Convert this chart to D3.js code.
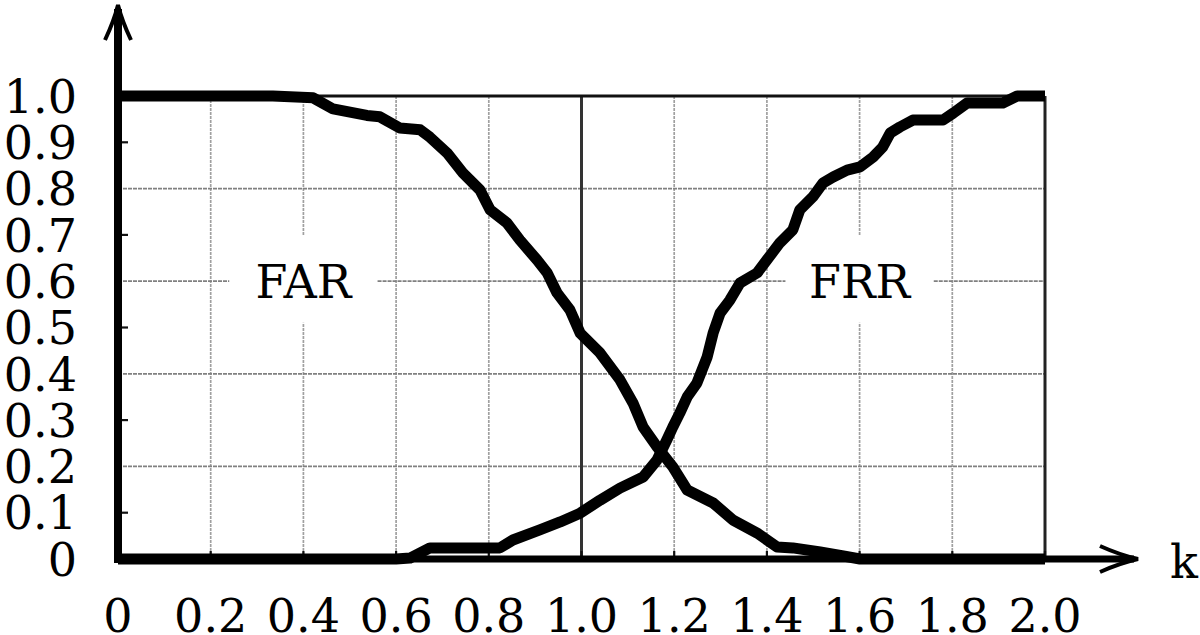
<!DOCTYPE html>
<html><head><meta charset="utf-8">
<script src="https://cdn.jsdelivr.net/npm/d3@7"></script>
<style>html,body{margin:0;padding:0;background:#fff;overflow:hidden}</style>
</head><body>
<svg id="c" width="1200" height="635"></svg>
<script>
// ---- data ----
const xTicks = [0, 0.2, 0.4, 0.6, 0.8, 1.0, 1.2, 1.4, 1.6, 1.8, 2.0];
const xTickLabels = ["0", "0.2", "0.4", "0.6", "0.8", "1.0", "1.2", "1.4", "1.6", "1.8", "2.0"];
const yTicks = [0, 0.1, 0.2, 0.3, 0.4, 0.5, 0.6, 0.7, 0.8, 0.9, 1.0];
const yTickLabels = ["0", "0.1", "0.2", "0.3", "0.4", "0.5", "0.6", "0.7", "0.8", "0.9", "1.0"];
const seriesNames = ["FAR", "FRR"];
const farK = [0, 0.334, 0.421, 0.464, 0.537, 0.565, 0.608, 0.652, 0.673, 0.710, 0.744, 0.781, 0.803, 0.839, 0.867, 0.904, 0.926, 0.947, 0.975, 0.997, 1.040, 1.083, 1.111, 1.133, 1.163, 1.197, 1.228, 1.284, 1.327, 1.379, 1.422, 1.456, 1.515, 1.568, 1.601, 2.0];
const farV = [1.0, 1.0, 0.996, 0.972, 0.958, 0.955, 0.931, 0.927, 0.911, 0.877, 0.834, 0.797, 0.754, 0.726, 0.689, 0.646, 0.618, 0.575, 0.538, 0.488, 0.445, 0.387, 0.337, 0.285, 0.242, 0.199, 0.149, 0.121, 0.084, 0.056, 0.026, 0.024, 0.015, 0.006, 0.0, 0.0];
const frrK = [0, 0.565, 0.600, 0.630, 0.673, 0.824, 0.852, 0.910, 0.954, 0.997, 1.040, 1.083, 1.133, 1.163, 1.184, 1.197, 1.212, 1.228, 1.249, 1.271, 1.284, 1.299, 1.320, 1.342, 1.379, 1.400, 1.428, 1.456, 1.471, 1.499, 1.521, 1.543, 1.573, 1.601, 1.629, 1.650, 1.666, 1.687, 1.715, 1.780, 1.802, 1.832, 1.909, 1.940, 2.0];
const frrV = [0, 0, 0.0, 0.002, 0.024, 0.024, 0.041, 0.063, 0.080, 0.099, 0.127, 0.153, 0.177, 0.214, 0.257, 0.285, 0.315, 0.350, 0.380, 0.436, 0.488, 0.531, 0.559, 0.596, 0.618, 0.646, 0.683, 0.711, 0.754, 0.782, 0.812, 0.825, 0.840, 0.847, 0.868, 0.890, 0.920, 0.933, 0.948, 0.948, 0.963, 0.985, 0.985, 1.0, 1.0];
const labelPos = [[0.4, 0.6], [1.6, 0.6]];

// ---- layout ----
const svg = d3.select("#c");
const x = d3.scaleLinear().domain([0, 2]).range([118, 1045]);
const y = d3.scaleLinear().domain([0, 1]).range([559, 96]);
const font = "'DejaVu Serif', serif";
const fs = 46;
const g = svg.append("g");

// vertical grid lines
xTicks.filter(t => t > 0 && t < 2 && t !== 1.0).forEach(t => {
  const segs = [];
  const lab = labelPos.find(p => Math.abs(p[0] - t) < 1e-9);
  if (lab) {
    segs.push([0, lab[1] - 0.09]);
    segs.push([lab[1] + 0.1, 1]);
  } else segs.push([0, 1]);
  segs.forEach(s => g.append("line")
    .attr("x1", x(t)).attr("x2", x(t)).attr("y1", y(s[0])).attr("y2", y(s[1]))
    .attr("stroke", "#a0a0a0").attr("stroke-width", 1.7).attr("stroke-dasharray", "3,1"));
});
// horizontal grid lines
[0.2, 0.4, 0.6, 0.8].forEach(t => {
  let segs = [[0, 2]];
  if (Math.abs(t - 0.6) < 1e-9) {
    segs = [];
    let start = 0;
    labelPos.forEach(p => {
      segs.push([start, p[0] - 0.16]);
      start = p[0] + 0.16;
    });
    segs.push([start, 2]);
  }
  segs.forEach(s => g.append("line")
    .attr("x1", x(s[0])).attr("x2", x(s[1])).attr("y1", y(t)).attr("y2", y(t))
    .attr("stroke", "#808080").attr("stroke-width", 1.7).attr("stroke-dasharray", "4,1"));
});
// line at k=1.0
g.append("line").attr("x1", x(1)).attr("x2", x(1)).attr("y1", y(0)).attr("y2", y(1))
  .attr("stroke", "#333").attr("stroke-width", 3);
// right border
g.append("line").attr("x1", x(2)).attr("x2", x(2)).attr("y1", y(0)).attr("y2", y(1))
  .attr("stroke", "#222").attr("stroke-width", 3);
// top border
g.append("line").attr("x1", x(0)).attr("x2", x(2)).attr("y1", y(1)).attr("y2", y(1))
  .attr("stroke", "#111").attr("stroke-width", 3);

// minor y ticks (odd tenths)
yTicks.filter((t, i) => i % 2 === 1).forEach(t => {
  g.append("line").attr("x1", x(0)).attr("x2", x(0) + 10).attr("y1", y(t)).attr("y2", y(t))
    .attr("stroke", "#111").attr("stroke-width", 2.2);
});
// x ticks
xTicks.forEach(t => {
  g.append("line").attr("x1", x(t)).attr("x2", x(t)).attr("y1", y(0)).attr("y2", y(0) - 8)
    .attr("stroke", "#111").attr("stroke-width", 2.2);
});

// curves
const line = d3.line().x(d => x(d[0])).y(d => y(d[1]));
const far = farK.map((k, i) => [k, farV[i]]);
const frr = frrK.map((k, i) => [k, frrV[i]]);
[far, frr].forEach(d => {
  g.append("path").attr("d", line(d)).attr("fill", "none").attr("stroke", "#000")
    .attr("stroke-width", 11).attr("stroke-linejoin", "round").attr("stroke-linecap", "butt");
});

// axes
const x0 = x(0), y0 = y(0);
const xEnd = 1138, yTop = 5;
g.append("line").attr("x1", x0).attr("x2", x0).attr("y1", y0 + 4).attr("y2", yTop + 4)
  .attr("stroke", "#000").attr("stroke-width", 8);
g.append("line").attr("x1", x0 - 4).attr("x2", xEnd - 4).attr("y1", y0).attr("y2", y0)
  .attr("stroke", "#000").attr("stroke-width", 7);
// arrowheads
g.append("path")
  .attr("d", `M${x0 - 13},${yTop + 35} Q${x0 - 4},${yTop + 16} ${x0},${yTop} Q${x0 + 4},${yTop + 16} ${x0 + 13},${yTop + 35}`)
  .attr("fill", "none").attr("stroke", "#000").attr("stroke-width", 4).attr("stroke-linejoin", "miter");
g.append("path")
  .attr("d", `M${xEnd - 38},${y0 - 13} Q${xEnd - 18},${y0 - 4} ${xEnd},${y0} Q${xEnd - 18},${y0 + 4} ${xEnd - 38},${y0 + 13}`)
  .attr("fill", "none").attr("stroke", "#000").attr("stroke-width", 4).attr("stroke-linejoin", "miter");

// tick labels
const txt = g.append("g").attr("font-family", font).attr("font-size", fs).attr("fill", "#000");
yTicks.forEach((t, i) => {
  txt.append("text").attr("x", 77).attr("y", y(t)).attr("dy", "0.365em")
    .attr("text-anchor", "end").text(yTickLabels[i]);
});
xTicks.forEach((t, i) => {
  txt.append("text").attr("x", x(t)).attr("y", 632)
    .attr("text-anchor", "middle").text(xTickLabels[i]);
});
txt.append("text").attr("x", 1170).attr("y", 578).text("k");
// series labels
seriesNames.forEach((n, i) => {
  txt.append("text").attr("x", x(labelPos[i][0])).attr("y", y(labelPos[i][1])).attr("dy", "0.365em")
    .attr("text-anchor", "middle").text(n);
});
</script>
</body></html>
